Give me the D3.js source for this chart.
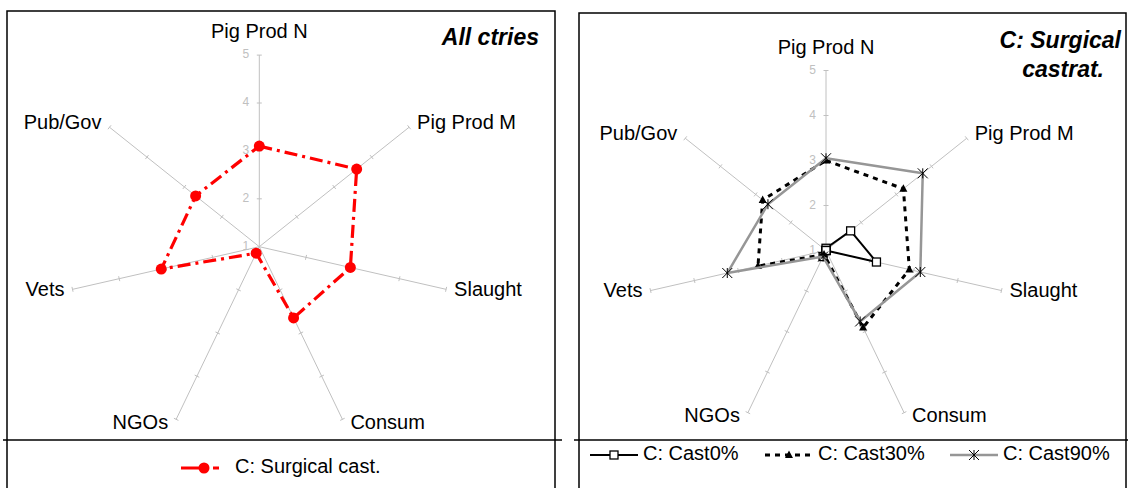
<!DOCTYPE html>
<html>
<head>
<meta charset="utf-8">
<script src="https://d3js.org/d3.v7.min.js"></script>
<style>
  body { margin: 0; background: #fff; }
  svg { display: block; font-family: "Liberation Sans", Arial, Helvetica, sans-serif; }
</style>
</head>
<body>
<svg id="chart" width="1128" height="488"></svg>
<script>
// axes of the radar and the tick values
const axes = ["Pig Prod N", "Pig Prod M", "Slaught", "Consum", "NGOs", "Vets", "Pub/Gov"];
const ticks = [1, 2, 3, 4, 5];

// left panel: all countries
const allCtries = [3.1, 3.6, 2.95, 2.65, 1.15, 3.1, 2.7];

// right panel: surgical castration scenarios
const cast0 = [1.05, 1.7, 2.15, 1.0, 1.15, 1.0, 1.0];
const cast30 = [3.0, 3.2, 2.9, 2.9, 1.1, 2.55, 2.8];
const cast90 = [3.05, 3.75, 3.15, 2.75, 1.15, 3.25, 2.65];

const svg = d3.select("#chart");
const step = 2 * Math.PI / axes.length;

function radarGrid(g, cx, cy, R) {
  const r = d3.scaleLinear().domain([1, 5]).range([0, R]);
  const pt = (i, v) => [cx + r(v) * Math.sin(i * step), cy - r(v) * Math.cos(i * step)];

  axes.forEach((name, i) => {
    const a = i * step, s = Math.sin(a), c = Math.cos(a);
    const end = pt(i, 5);
    g.append("line")
      .attr("x1", cx).attr("y1", cy).attr("x2", end[0]).attr("y2", end[1])
      .attr("stroke", "#c0c0c0").attr("stroke-width", 1);
    // small tick marks across the axis
    ticks.slice(1).forEach(t => {
      const p = pt(i, t);
      g.append("line")
        .attr("x1", p[0] - 2.5 * c).attr("y1", p[1] - 2.5 * s)
        .attr("x2", p[0] + 2.5 * c).attr("y2", p[1] + 2.5 * s)
        .attr("stroke", "#c0c0c0").attr("stroke-width", 1);
    });
    // axis name
    let tx, ty, anchor;
    if (i == 0) { tx = end[0]; ty = end[1] - 22; anchor = "middle"; }
    else {
      tx = end[0] + (s > 0 ? 8 : -8);
      ty = end[1] - c * 5;
      anchor = s > 0 ? "start" : "end";
    }
    g.append("text").attr("x", tx).attr("y", ty)
      .attr("text-anchor", anchor).attr("dominant-baseline", "middle")
      .attr("font-size", 20).attr("fill", "#000").text(name);
  });

  // value labels along the first axis
  g.selectAll(".tl").data(ticks).join("text")
    .attr("x", cx - 10).attr("y", d => cy - r(d))
    .attr("text-anchor", "end").attr("dominant-baseline", "middle")
    .attr("font-size", 12).attr("fill", "#c0c0c0").text(d => d);

  return pt;
}

function series(g, pt, vals, stroke, width, dash) {
  const pts = vals.map((v, i) => pt(i, v));
  g.append("path")
    .attr("d", d3.line()(pts) + "Z")
    .attr("fill", "none").attr("stroke", stroke).attr("stroke-width", width)
    .attr("stroke-dasharray", dash || null).attr("stroke-linejoin", "round");
  return pts;
}

function square(g, x, y) {
  g.append("rect").attr("x", x - 4).attr("y", y - 4).attr("width", 8).attr("height", 8)
    .attr("fill", "#fff").attr("stroke", "#000").attr("stroke-width", 1.3);
}
function triangle(g, x, y) {
  g.append("path").attr("d", `M${x},${y - 4.5}L${x + 4},${y + 3}L${x - 4},${y + 3}Z`).attr("fill", "#000");
}
function star(g, x, y) {
  g.append("path")
    .attr("d", `M${x - 5},${y - 5}L${x + 5},${y + 5}M${x - 5},${y + 5}L${x + 5},${y - 5}M${x},${y - 5}L${x},${y + 5}`)
    .attr("stroke", "#000").attr("stroke-width", 1).attr("fill", "none");
}

// ---------- frames ----------
svg.append("rect").attr("x", 7).attr("y", 11).attr("width", 548).attr("height", 500)
  .attr("fill", "none").attr("stroke", "#000").attr("stroke-width", 1.5);
svg.append("line").attr("x1", 3).attr("x2", 562).attr("y1", 440).attr("y2", 440)
  .attr("stroke", "#000").attr("stroke-width", 1.5);
svg.append("rect").attr("x", 579).attr("y", 13).attr("width", 547).attr("height", 500)
  .attr("fill", "none").attr("stroke", "#000").attr("stroke-width", 1.5);
svg.append("line").attr("x1", 574).attr("x2", 1128).attr("y1", 440).attr("y2", 440)
  .attr("stroke", "#000").attr("stroke-width", 1.5);

// ---------- left panel ----------
const gl = svg.append("g");
const ptL = radarGrid(gl, 259.3, 246.7, 191.6);
const redPts = series(gl, ptL, allCtries, "#ff0000", 3.2, "13,5,3,5");
gl.selectAll(".dot").data(redPts).join("circle")
  .attr("cx", d => d[0]).attr("cy", d => d[1]).attr("r", 5.5).attr("fill", "#ff0000");
gl.append("text").attr("x", 539).attr("y", 39).attr("text-anchor", "end")
  .attr("dominant-baseline", "middle").attr("font-size", 23)
  .attr("font-weight", "bold").attr("font-style", "italic").text("All ctries");

// legend left
gl.append("line").attr("x1", 181).attr("x2", 226).attr("y1", 468).attr("y2", 468)
  .attr("stroke", "#ff0000").attr("stroke-width", 3).attr("stroke-dasharray", "18,14,6,30");
gl.append("circle").attr("cx", 204).attr("cy", 468).attr("r", 5.5).attr("fill", "#ff0000");
gl.append("text").attr("x", 235).attr("y", 468).attr("dominant-baseline", "middle")
  .attr("font-size", 20).text("C: Surgical cast.");

// ---------- right panel ----------
const gr = svg.append("g");
const ptR = radarGrid(gr, 826, 250.5, 180);
series(gr, ptR, cast0, "#000", 2).forEach(p => square(gr, p[0], p[1]));
series(gr, ptR, cast30, "#000", 3, "5,5").forEach(p => triangle(gr, p[0], p[1]));
series(gr, ptR, cast90, "#969696", 2.5).forEach(p => star(gr, p[0], p[1]));

gr.append("text").attr("x", 1121).attr("y", 42).attr("text-anchor", "end")
  .attr("dominant-baseline", "middle").attr("font-size", 23)
  .attr("font-weight", "bold").attr("font-style", "italic").text("C: Surgical");
gr.append("text").attr("x", 1104).attr("y", 71).attr("text-anchor", "end")
  .attr("dominant-baseline", "middle").attr("font-size", 23)
  .attr("font-weight", "bold").attr("font-style", "italic").text("castrat.");

// legend right
const leg = [
  { x: 590, label: "C: Cast0%", stroke: "#000", w: 2, dash: null, mark: square },
  { x: 765, label: "C: Cast30%", stroke: "#000", w: 3, dash: "5,5", mark: triangle },
  { x: 950, label: "C: Cast90%", stroke: "#969696", w: 2.5, dash: null, mark: star }
];
leg.forEach(d => {
  gr.append("line").attr("x1", d.x).attr("x2", d.x + 48).attr("y1", 455).attr("y2", 455)
    .attr("stroke", d.stroke).attr("stroke-width", d.w).attr("stroke-dasharray", d.dash);
  d.mark(gr, d.x + 24, 455);
  gr.append("text").attr("x", d.x + 53).attr("y", 455).attr("dominant-baseline", "middle")
    .attr("font-size", 20).text(d.label);
});
</script>
</body>
</html>
